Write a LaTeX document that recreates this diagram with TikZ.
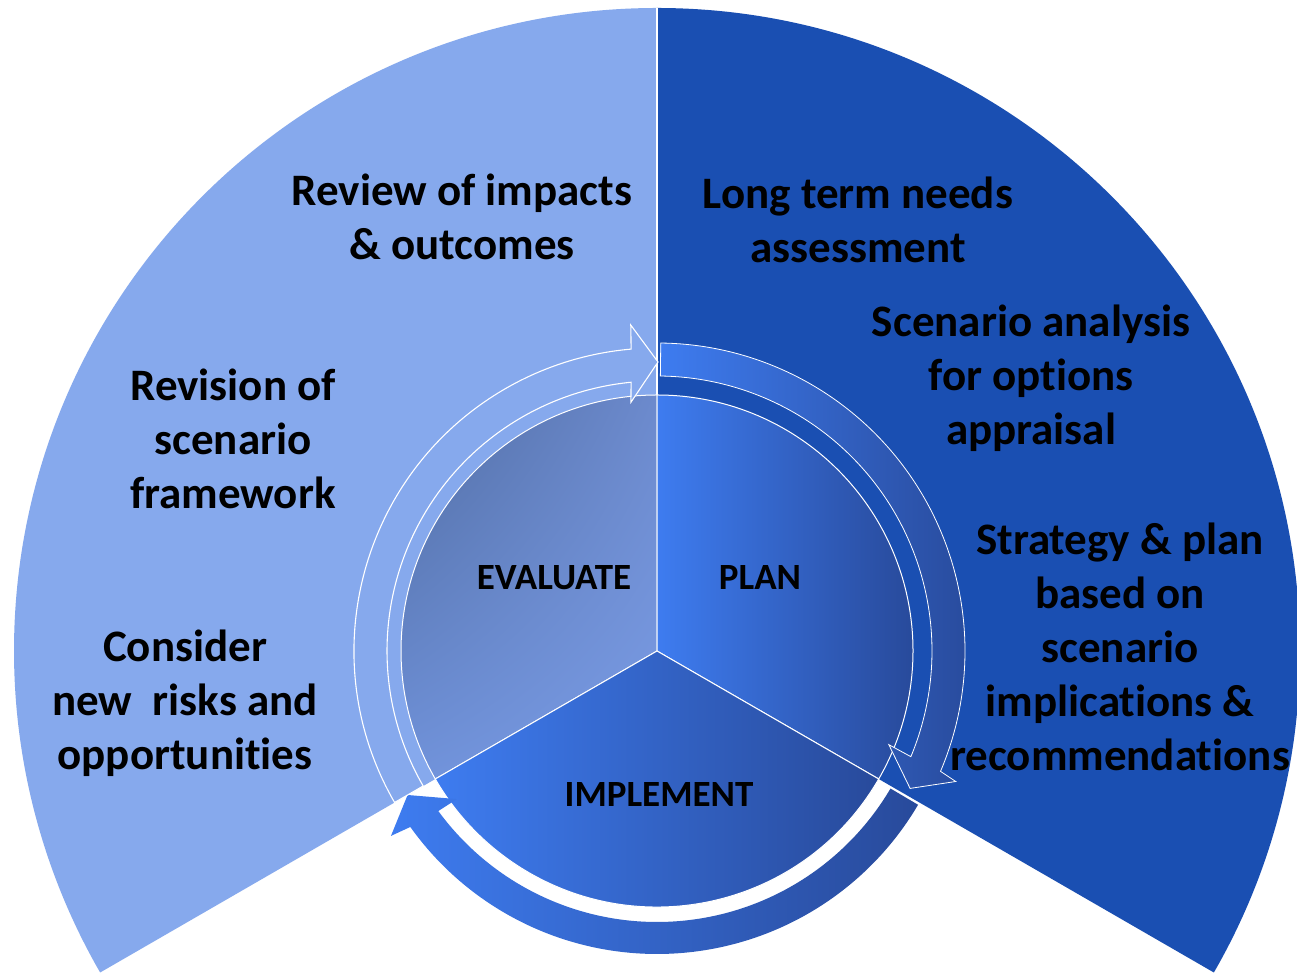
\documentclass[tikz,border=0pt]{standalone}
\usepackage{fontspec}
\setmainfont[Ligatures={NoCommon,NoRare,NoContextual},RawFeature={-liga;-clig;-calt;-dlig}]{Carlito}
\usetikzlibrary{shadings}
\definecolor{lightsec}{RGB}{134,169,237}
\definecolor{darksec}{RGB}{26,79,178}
\definecolor{blueA}{RGB}{62,124,240}
\definecolor{blueB}{RGB}{40,74,155}
\definecolor{evUL}{RGB}{80,108,162}
\definecolor{evUR}{RGB}{108,138,205}
\definecolor{evLL}{RGB}{112,146,218}
\definecolor{evLR}{RGB}{122,156,230}
\tikzset{
  bigtxt/.style={align=center, inner sep=0pt, text=black, font=\fontsize{45}{54}\selectfont\bfseries},
  phase/.style={inner sep=0pt, text=black, font=\fontsize{37}{44}\selectfont\bfseries},
  sector/.style={draw=white, line width=1pt},
  ringarrow/.style={left color=blueA, right color=blueB}
}
\begin{document}
\begin{tikzpicture}[x=1pt,y=1pt]
\useasboundingbox (0,0) rectangle (1297,976);
\fill[white] (0,0) rectangle (1297,976);
\begin{scope}[shift={(657,325)}]
  % big background sectors
  \fill[lightsec] (0,0) -- (90:643) arc[start angle=90,end angle=210,radius=643] -- cycle;
  \fill[darksec] (0,0) -- (90:643) arc[start angle=90,end angle=-30,radius=643] -- cycle;
  \draw[white,line width=2pt] (90:256) -- (90:643);
  % inner pie
  \shadedraw[sector, upper left=evUL, upper right=evUR, lower left=evLL, lower right=evLR]
    (0,0) -- (90:256) arc[start angle=90,end angle=210,radius=256] -- cycle;
  \shadedraw[sector, left color=blueA, right color=blueB]
    (0,0) -- (90:256) arc[start angle=90,end angle=-30,radius=256] -- cycle;
  \shadedraw[sector, left color=blueA, right color=blueB]
    (0,0) -- (-30:256) arc[start angle=-30,end angle=-150,radius=256] -- cycle;
  % plan arrow (right)
  \shadedraw[ringarrow, draw=white, line width=0.8pt]
    (89.3:308) arc[start angle=89.3,end angle=-23,radius=308]
    -- (-23.6:326) -- (-28.5:288) -- (-22:250) -- (-22.6:275)
    arc[start angle=-22.6,end angle=89.3,radius=275] -- cycle;
  % implement arrow (bottom)
  \shade[ringarrow]
    (-30.5:303) arc[start angle=-30.5,end angle=-144.5,radius=303]
    -- (-145.2:324) -- (-150:288) -- (-143.5:249) -- (-143.8:271)
    arc[start angle=-143.8,end angle=-30.5,radius=271] -- cycle;
  % evaluate arrow (left, hollow)
  \filldraw[fill=lightsec, draw=white, line width=1.1pt]
    (210:303) arc[start angle=210,end angle=94.9,radius=303]
    -- (94.6:327) -- (89.8:289) -- (96:250) -- (95.5:270)
    arc[start angle=95.5,end angle=210,radius=270] -- cycle;
\end{scope}
% labels
\node[bigtxt] (review) at (462,759) {Review of impacts\\\& outcomes};
\node[bigtxt] (long) at (858,756) {Long term needs\\assessment};
\node[bigtxt] (scen) at (1031,598) {Scenario analysis\\for options\\appraisal};
\node[bigtxt] (strat) at (1120,329) {Strategy \& plan\\based on\\scenario\\implications \&\\recommendations};
\node[bigtxt] (revis) at (233,537.5) {Revision of\\scenario\\framework};
\node[bigtxt] (consider) at (185,272.5) {Consider\\new\ \ risks and\\opportunities};
\node[phase] (eval) at (554,398) {EVALUATE};
\node[phase] (plan) at (760,398) {PLAN};
\node[phase] (impl) at (659,181) {IMPLEMENT};
\end{tikzpicture}
\end{document}
